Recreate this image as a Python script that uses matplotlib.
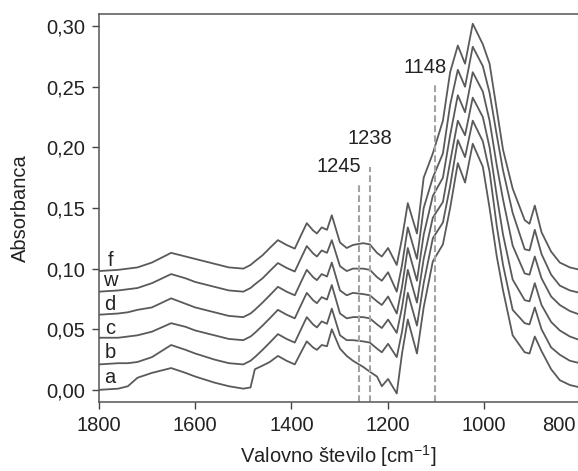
import numpy as np
import matplotlib
matplotlib.use("Agg")
import matplotlib.pyplot as plt
import matplotlib.transforms as mtrans
from matplotlib.ticker import FuncFormatter

plt.rcParams['font.family'] = ['Liberation Sans', 'DejaVu Sans']
plt.rcParams['mathtext.fontset'] = 'custom'
plt.rcParams['mathtext.rm'] = 'Liberation Sans'
plt.rcParams['mathtext.default'] = 'regular'

# wavenumbers (cm-1), shared by all spectra
wn = [1800, 1760, 1740, 1720, 1690, 1650, 1620, 1600, 1560, 1530, 1500, 1485, 1476, 1460, 1445,
      1428, 1410, 1393, 1380, 1368, 1355, 1347, 1337, 1326, 1316, 1299, 1285, 1272, 1251, 1237,
      1222, 1212, 1199, 1181, 1170, 1158, 1139, 1125, 1106, 1085, 1070, 1054, 1039, 1023, 1002,
      988, 973, 960, 940, 915, 905, 894, 880, 860, 842, 821, 800]

spec_a = [0.000, 0.001, 0.003, 0.010, 0.014, 0.018, 0.014, 0.011, 0.006, 0.003, 0.001, 0.002, 0.017, 0.020, 0.023,
          0.028, 0.024, 0.021, 0.031, 0.040, 0.035, 0.033, 0.037, 0.036, 0.050, 0.034, 0.028, 0.024, 0.019, 0.015,
          0.011, 0.003, 0.009, -0.003, 0.030, 0.058, 0.030, 0.068, 0.106, 0.120, 0.150, 0.187, 0.171, 0.203, 0.184,
          0.150, 0.110, 0.082, 0.045, 0.031, 0.030, 0.044, 0.032, 0.017, 0.008, 0.004, 0.002]
spec_b = [0.021, 0.022, 0.022, 0.023, 0.027, 0.037, 0.033, 0.030, 0.025, 0.022, 0.021, 0.024, 0.027, 0.033, 0.039,
          0.046, 0.042, 0.039, 0.050, 0.060, 0.054, 0.0515, 0.0565, 0.0545, 0.067, 0.045, 0.041, 0.041, 0.040, 0.039,
          0.034, 0.031, 0.038, 0.027, 0.048, 0.080, 0.053, 0.088, 0.125, 0.138, 0.168, 0.206, 0.192, 0.222, 0.205,
          0.180, 0.135, 0.103, 0.066, 0.055, 0.054, 0.068, 0.050, 0.035, 0.029, 0.024, 0.022]
spec_c = [0.043, 0.043, 0.044, 0.045, 0.048, 0.055, 0.052, 0.049, 0.045, 0.042, 0.041, 0.044, 0.047, 0.053, 0.059,
          0.066, 0.062, 0.059, 0.070, 0.080, 0.074, 0.0715, 0.0765, 0.0745, 0.0865, 0.063, 0.059, 0.060, 0.060, 0.059,
          0.054, 0.051, 0.058, 0.047, 0.068, 0.099, 0.072, 0.108, 0.142, 0.155, 0.188, 0.222, 0.210, 0.241, 0.225,
          0.200, 0.160, 0.128, 0.091, 0.074, 0.073, 0.088, 0.070, 0.056, 0.049, 0.044, 0.041]
spec_d = [0.062, 0.063, 0.064, 0.066, 0.068, 0.0755, 0.071, 0.068, 0.064, 0.061, 0.060, 0.063, 0.066, 0.072, 0.078,
          0.085, 0.081, 0.078, 0.089, 0.099, 0.093, 0.0905, 0.0955, 0.0935, 0.105, 0.082, 0.078, 0.080, 0.079, 0.078,
          0.073, 0.070, 0.077, 0.063, 0.085, 0.117, 0.090, 0.128, 0.160, 0.175, 0.210, 0.243, 0.229, 0.262, 0.246,
          0.222, 0.185, 0.157, 0.119, 0.096, 0.095, 0.110, 0.092, 0.077, 0.070, 0.065, 0.062]
spec_w = [0.081, 0.082, 0.083, 0.084, 0.088, 0.0955, 0.092, 0.089, 0.085, 0.082, 0.081, 0.084, 0.087, 0.092, 0.098,
          0.1046, 0.1006, 0.0976, 0.1086, 0.1186, 0.1126, 0.110, 0.115, 0.113, 0.1235, 0.102, 0.098, 0.100, 0.100, 0.099,
          0.093, 0.090, 0.097, 0.081, 0.103, 0.134, 0.108, 0.150, 0.175, 0.195, 0.235, 0.264, 0.250, 0.283, 0.267,
          0.245, 0.210, 0.181, 0.146, 0.116, 0.115, 0.132, 0.112, 0.095, 0.086, 0.082, 0.080]
spec_f = [0.098, 0.099, 0.100, 0.101, 0.105, 0.113, 0.110, 0.108, 0.104, 0.101, 0.100, 0.103, 0.106, 0.111, 0.117,
          0.1235, 0.1195, 0.1165, 0.1275, 0.1375, 0.1315, 0.129, 0.134, 0.132, 0.144, 0.1215, 0.117, 0.1195, 0.121, 0.120,
          0.113, 0.110, 0.117, 0.103, 0.125, 0.154, 0.129, 0.175, 0.195, 0.222, 0.262, 0.284, 0.269, 0.302, 0.285,
          0.269, 0.231, 0.198, 0.166, 0.140, 0.137, 0.152, 0.130, 0.114, 0.105, 0.101, 0.099]

names = ['a', 'b', 'c', 'd', 'w', 'f']
name_y = [0.010, 0.0305, 0.051, 0.070, 0.0906, 0.107]

# dashed marker lines: where drawn, how high, and their labels
mark_x = [1259, 1237, 1102]
mark_top = [0.169, 0.184, 0.254]
mark_txt = ['1245', '1238', '1148']

fig = plt.figure(figsize=(5.78, 4.71), dpi=100)
ax = fig.add_axes([99/578, 69/471, 481/578, 388/471])

for s in [spec_a, spec_b, spec_c, spec_d, spec_w, spec_f]:
    ax.plot(wn, s, color='#5a5a5a', lw=1.3, solid_joinstyle='round')

for x, t in zip(mark_x, mark_top):
    ax.plot([x, x], [-0.01, t], color='#a3a3a3', lw=1.5, ls=(0, (3.2, 1.6)))

fs = 14.5
ax.text(1301, 0.1845, mark_txt[0], ha='center', va='center', fontsize=fs, color='#222222')
ax.text(1237, 0.2076, mark_txt[1], ha='center', va='center', fontsize=fs, color='#222222')
ax.text(1122, 0.266, mark_txt[2], ha='center', va='center', fontsize=fs, color='#222222')

for n, y in zip(names, name_y):
    ax.text(1777, y, n, ha='center', va='center', fontsize=fs, color='#222222')

ax.set_xlim(1800, 800)
ax.set_ylim(-0.01, 0.31)
ax.set_xticks([1800, 1600, 1400, 1200, 1000, 800])
ax.set_yticks(np.arange(0, 0.31, 0.05))
ax.yaxis.set_major_formatter(FuncFormatter(lambda v, p: ('%.2f' % v).replace('.', ',')))
ax.tick_params(direction='out', length=5, width=1, labelsize=fs, colors='#444444',
               labelcolor='#222222', pad=5)
ax.tick_params(top=False, right=False)
lab800 = ax.get_xticklabels()[-1]
lab800.set_horizontalalignment('right')
lab800.set_transform(lab800.get_transform() + mtrans.ScaledTranslation(-0.04, 0, fig.dpi_scale_trans))
for sp in ax.spines.values():
    sp.set_color('#555555')
    sp.set_linewidth(1.1)

fig.text(20/578, 1 - 208/471, 'Absorbanca', rotation=90, ha='center', va='center',
         fontsize=fs, color='#222222')
fig.text(338/578, 1 - 456/471, 'Valovno število [cm$^{-1}$]', ha='center', va='center',
         fontsize=fs, color='#222222')

fig.savefig('out.png', dpi=100)
